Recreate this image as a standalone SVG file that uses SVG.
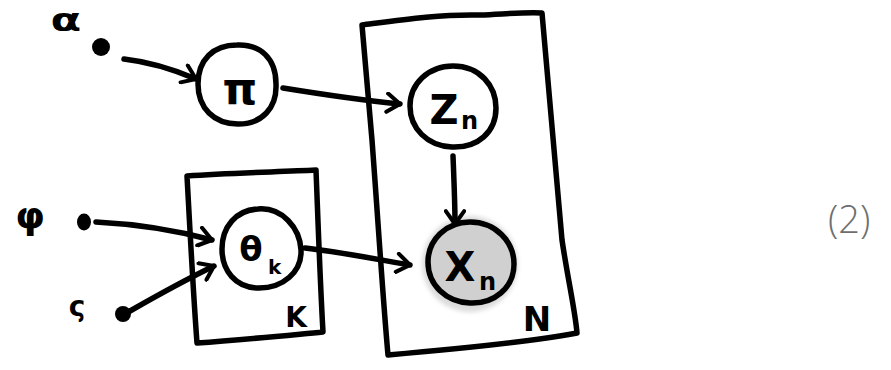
<svg xmlns="http://www.w3.org/2000/svg" width="891" height="370" viewBox="0 0 891 370">
  <style>
    .ink { fill: none; stroke: #000; stroke-width: 5.5; stroke-linecap: round; stroke-linejoin: round; }
    .dot { fill: #000; }
    .lbl { font-family: "DejaVu Sans", sans-serif; fill: #000; text-anchor: middle; }
    .sub { font-family: "DejaVu Sans", sans-serif; fill: #000; font-weight: bold; }
    .eq { font-family: "Open Sans", "DejaVu Sans", sans-serif; font-weight: 300; fill: #6e6e6e; font-size: 38px; }
  </style>
  <defs>
    <marker id="head" viewBox="0 0 12 12" refX="9" refY="6" markerWidth="4" markerHeight="4" orient="auto" markerUnits="strokeWidth">
      <path d="M2,1 L9,6 L2,11" fill="none" stroke="#000" stroke-width="2.2" stroke-linecap="round" stroke-linejoin="round"/>
    </marker>
    <filter id="haze" x="-30%" y="-30%" width="160%" height="160%">
      <feGaussianBlur stdDeviation="2"/>
    </filter>
  </defs>

  <!-- plates -->
  <g id="plate-N">
    <path class="ink" d="M362,25 C400,20 440,14 480,15 C505,14 525,12 542,13 C548,80 555,160 562,240 C568,280 575,310 577,333 C540,340 470,348 388,355 C383,300 378,220 372,140 C368,90 364,50 362,25 Z"/>
    <text class="lbl" x="537" y="331" font-size="34" font-weight="bold">N</text>
  </g>
  <g id="plate-K">
    <path class="ink" d="M187,176 C230,173 275,172 316,170 C318,220 320,280 323,332 C280,336 240,340 197,343 C193,290 190,230 187,176 Z"/>
    <text class="lbl" x="296" y="327" font-size="28" font-weight="bold">K</text>
  </g>

  <!-- hyperparameters -->
  <g id="alpha">
    <text class="lbl" x="66" y="31" font-size="32" font-weight="bold" transform="translate(66,0) scale(1.4,1) translate(-66,0)">α</text>
    <circle class="dot" cx="101" cy="47" r="9"/>
  </g>
  <g id="phi">
    <text class="lbl" x="30" y="228" font-size="38" font-weight="bold">φ</text>
    <ellipse class="dot" cx="84" cy="222" rx="7" ry="8.5"/>
  </g>
  <g id="j">
    <text class="lbl" x="77" y="316" font-size="28" font-weight="bold">ς</text>
    <circle class="dot" cx="123" cy="314" r="8"/>
  </g>

  <!-- latent and observed nodes -->
  <g id="pi">
    <path class="ink" d="M237,45 C260,44 276,58 276,84 C277,108 262,124 238,124 C214,124 198,108 198,84 C198,60 213,45 237,45 Z"/>
    <text class="lbl" x="240" y="104" font-size="44" font-weight="bold">π</text>
  </g>
  <g id="z">
    <path class="ink" d="M453,66 C480,66 496,86 496,108 C496,132 478,148 452,147 C427,146 410,128 410,106 C410,84 428,66 453,66 Z"/>
    <text class="lbl" x="444" y="124" font-size="40" font-weight="bold">Z</text>
    <text class="sub" x="461" y="129" font-size="24">n</text>
  </g>
  <g id="theta">
    <path class="ink" d="M258,209 C282,207 300,228 301,250 C302,272 283,288 259,288 C235,288 222,270 222,249 C222,227 236,210 258,209 Z"/>
    <text class="lbl" x="251" y="261" font-size="34" font-weight="bold">θ</text>
    <text class="sub" x="268" y="274" font-size="20">k</text>
  </g>
  <g id="x">
    <ellipse cx="470" cy="264" rx="48" ry="48" fill="#dcdcdc" filter="url(#haze)"/>
    <path d="M470,222 C496,222 514,242 514,264 C514,288 494,304 470,303 C446,302 428,285 428,262 C428,240 446,222 470,222 Z" fill="#d0d0d0" stroke="#000" stroke-width="5.5"/>
    <text class="lbl" x="460" y="281" font-size="40" font-weight="bold">X</text>
    <text class="sub" x="479" y="290" font-size="24">n</text>
  </g>

  <!-- connectors -->
  <g id="edges">
    <path class="ink" marker-end="url(#head)" d="M124,59 C150,62 175,70 196,79"/>
    <path class="ink" marker-end="url(#head)" d="M283,88 C320,94 360,100 400,104"/>
    <path class="ink" marker-end="url(#head)" d="M453,156 C454,180 455,205 455,224"/>
    <path class="ink" marker-end="url(#head)" d="M96,222 C135,224 175,230 212,240"/>
    <path class="ink" marker-end="url(#head)" d="M130,311 C158,295 185,280 214,266"/>
    <path class="ink" marker-end="url(#head)" d="M305,248 C340,252 375,259 410,265"/>
  </g>

  <!-- equation number -->
  <text class="eq" x="828" y="233">(2)</text>
</svg>
